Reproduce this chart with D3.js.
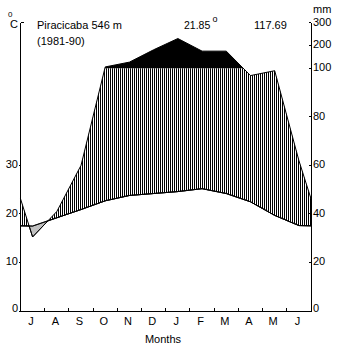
<!DOCTYPE html>
<html>
<head>
<meta charset="utf-8">
<script src="https://cdn.jsdelivr.net/npm/d3@7"></script>
<style>
  html, body { margin: 0; padding: 0; background: #fff; }
  svg { display: block; }
  text { font-family: "Liberation Sans", Arial, sans-serif; font-size: 11px; fill: #000; }
</style>
</head>
<body>
<svg id="chart" width="352" height="355"></svg>
<script>
// ---- data ----
const months = ["J","A","S","O","N","D","J","F","M","A","M","J"];
const temperature = [17.5, 19.2, 20.9, 22.7, 23.8, 24.2, 24.6, 25.2, 24.2, 22.5, 19.7, 17.6];
const precipitation = [30.5, 41, 60, 106, 127, 181, 230, 175, 175, 97, 99, 62];
const tempTicks = [0, 10, 20, 30];
const precipTicks = [0, 20, 40, 60, 80, 100, 200, 300];
const stationName = "Piracicaba 546 m";
const period = "(1981-90)";
const meanTemp = "21.85";
const meanPrecip = "117.69";

// ---- layout ----
const X0 = 20.5, X1 = 311, Y0 = 311, YTOP = 22.5;
const svg = d3.select("#chart");

const x = d3.scaleLinear().domain([0, 12]).range([X0, X1]);
const yT = d3.scaleLinear().domain([0, 50]).range([Y0, 68.3]);
const yP = d3.scaleLinear().domain([0, 100, 300]).range([Y0, 68.3, YTOP]);
const y100 = yP(100);

const edgeT = (temperature[0] + temperature[11]) / 2;
const edgeP = (precipitation[0] + precipitation[11]) / 2;
const tPts = [[x(0), yT(edgeT)], ...temperature.map((v, i) => [x(i + 0.5), yT(v)]), [x(12), yT(edgeT)]];
const pPts = [[x(0), yP(edgeP)], ...precipitation.map((v, i) => [x(i + 0.5), yP(v)]), [x(12), yP(edgeP)]];

function interp(pts, px) {
  for (let i = 0; i < pts.length - 1; i++) {
    const a = pts[i], b = pts[i + 1];
    if (px >= a[0] && px <= b[0]) {
      const f = (px - a[0]) / (b[0] - a[0]);
      return a[1] + f * (b[1] - a[1]);
    }
  }
  return pts[pts.length - 1][1];
}

let xs = d3.range(X0, X1, 0.2).concat([X1], tPts.map(d => d[0]));
xs = Array.from(new Set(xs.map(v => +v.toFixed(3)))).sort((a, b) => a - b);
const samples = xs.map(px => ({ x: px, t: interp(tPts, px), p: interp(pPts, px) }));

// hatch pattern
const defs = svg.append("defs");
const pat = defs.append("pattern").attr("id", "hatch")
  .attr("patternUnits", "userSpaceOnUse").attr("width", 2).attr("height", 10);
pat.append("rect").attr("x", 0).attr("y", 0).attr("width", 2).attr("height", 10).attr("fill", "#fff");
pat.append("rect").attr("x", 0).attr("y", 0).attr("width", 1).attr("height", 10).attr("fill", "#000");

// humid (hatched) area
const humid = d3.area().x(d => d.x).y0(d => d.t).y1(d => Math.min(d.t, Math.max(d.p, y100)));
svg.append("path").datum(samples).attr("d", humid).attr("fill", "url(#hatch)");

// wet (>100 mm) area
const wet = d3.area().x(d => d.x).y0(y100).y1(d => Math.min(d.p, y100));
svg.append("path").datum(samples).attr("d", wet).attr("fill", "#000");

// dry area
const dry = d3.area().x(d => d.x).y0(d => d.t).y1(d => Math.max(d.t, d.p));
svg.append("path").datum(samples).attr("d", dry).attr("fill", "#c0c0c0")
  .attr("stroke", "#000").attr("stroke-width", 1);

// lines
const line = d3.line();
svg.append("path").attr("d", line(pPts)).attr("fill", "none").attr("stroke", "#000").attr("stroke-width", 1);
svg.append("path").attr("d", line(tPts)).attr("fill", "none").attr("stroke", "#000").attr("stroke-width", 1);

// axes
const ax = svg.append("g").attr("stroke", "#000").attr("stroke-width", 1).attr("shape-rendering", "crispEdges");
ax.append("line").attr("x1", X0).attr("x2", X0).attr("y1", YTOP).attr("y2", Y0 + 0.5);
ax.append("line").attr("x1", X0).attr("x2", X0 + 3).attr("y1", YTOP).attr("y2", YTOP);
ax.append("line").attr("x1", X1).attr("x2", X1).attr("y1", YTOP).attr("y2", Y0 + 0.5);
ax.append("line").attr("x1", X0).attr("x2", X1).attr("y1", Y0).attr("y2", Y0);

tempTicks.forEach(t => {
  ax.append("line").attr("x1", X0 - 2).attr("x2", X0).attr("y1", yT(t)).attr("y2", yT(t));
});
precipTicks.forEach(p => {
  ax.append("line").attr("x1", X1 - 2).attr("x2", X1).attr("y1", yP(p)).attr("y2", yP(p));
});
d3.range(1, 12).forEach(k => {
  ax.append("line").attr("x1", x(k)).attr("x2", x(k)).attr("y1", Y0 - 3).attr("y2", Y0);
});

// tick labels
svg.selectAll(".tl").data(tempTicks).enter().append("text")
  .attr("x", 18).attr("y", t => t === 0 ? Y0 + 1 : yT(t) + 3)
  .attr("text-anchor", "end").text(t => t);
svg.selectAll(".pl").data(precipTicks).enter().append("text")
  .attr("x", 313).attr("y", p => p === 0 ? Y0 + 1 : yP(p) + 3)
  .text(p => p);
svg.selectAll(".ml").data(months).enter().append("text")
  .attr("x", (m, i) => x(i + 0.5) - 1.5).attr("y", 325)
  .attr("text-anchor", "middle").text(m => m);

svg.append("text").attr("x", 163).attr("y", 343).attr("text-anchor", "middle").text("Months");
svg.append("text").attr("x", 313).attr("y", 13).text("mm");
svg.append("text").attr("x", 8).attr("y", 17).style("font-size", "8px").text("0");
svg.append("text").attr("x", 10).attr("y", 27.5).text("C");

svg.append("text").attr("x", 37).attr("y", 28.5).text(stationName);
svg.append("text").attr("x", 37).attr("y", 45).text(period);
svg.append("text").attr("x", 184).attr("y", 28.5).style("font-size", "10.5px").text(meanTemp);
svg.append("text").attr("x", 212.5).attr("y", 22).style("font-size", "9px").text("o");
svg.append("text").attr("x", 254).attr("y", 28.5).text(meanPrecip);
</script>
</body>
</html>
